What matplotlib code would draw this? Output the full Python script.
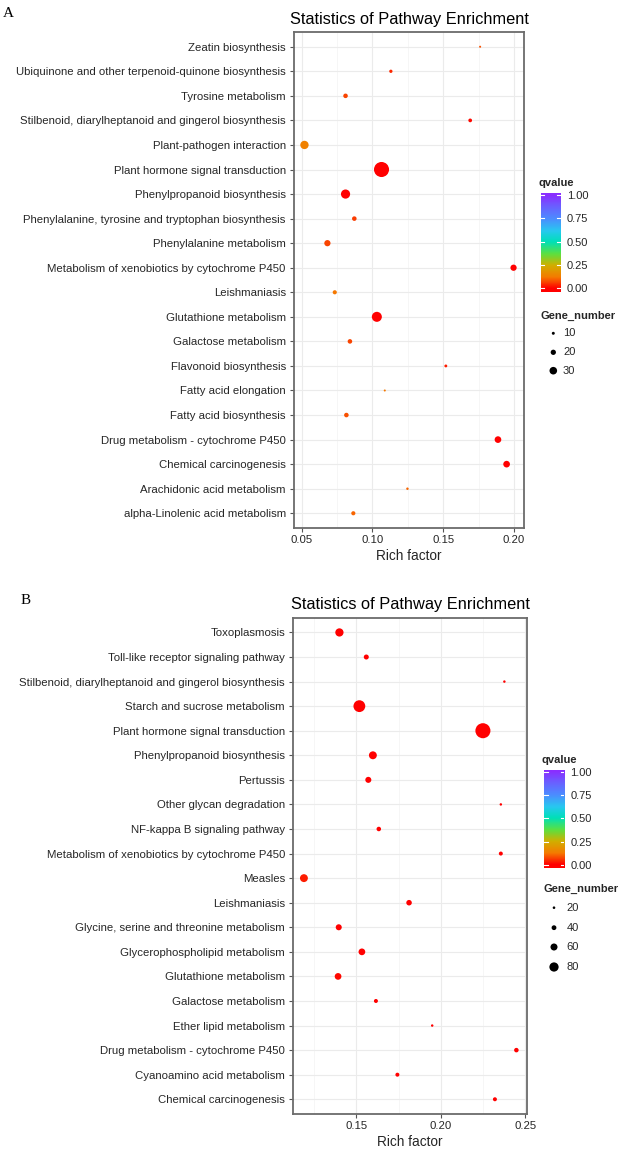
import numpy as np
import matplotlib
matplotlib.use("Agg")
import matplotlib.pyplot as plt
from matplotlib.colors import LinearSegmentedColormap, Normalize
from matplotlib.ticker import MultipleLocator
from matplotlib.lines import Line2D

W, H, DPI = 621, 1150, 100
plt.rcParams['font.family'] = ['Liberation Sans', 'DejaVu Sans']

# ---------------- Panel A data ----------------
a_pathways = [
    "Zeatin biosynthesis",
    "Ubiquinone and other terpenoid-quinone biosynthesis",
    "Tyrosine metabolism",
    "Stilbenoid, diarylheptanoid and gingerol biosynthesis",
    "Plant-pathogen interaction",
    "Plant hormone signal transduction",
    "Phenylpropanoid biosynthesis",
    "Phenylalanine, tyrosine and tryptophan biosynthesis",
    "Phenylalanine metabolism",
    "Metabolism of xenobiotics by cytochrome P450",
    "Leishmaniasis",
    "Glutathione metabolism",
    "Galactose metabolism",
    "Flavonoid biosynthesis",
    "Fatty acid elongation",
    "Fatty acid biosynthesis",
    "Drug metabolism - cytochrome P450",
    "Chemical carcinogenesis",
    "Arachidonic acid metabolism",
    "alpha-Linolenic acid metabolism",
]
a_rich = [0.176, 0.113, 0.081, 0.169, 0.052, 0.1064, 0.081, 0.0872, 0.0682, 0.1996,
          0.0734, 0.1031, 0.0841, 0.1518, 0.1087, 0.0816, 0.1886, 0.1947, 0.1247, 0.0865]
a_genes = [2, 5, 8, 6, 17, 33, 19, 8, 12, 12, 7, 21, 8, 4, 2, 8, 13, 13, 3, 7]
a_qvalue = [0.08, 0.04, 0.07, 0.01, 0.14, 0.0, 0.0, 0.06, 0.07, 0.0,
            0.12, 0.0, 0.07, 0.03, 0.12, 0.08, 0.0, 0.0, 0.10, 0.10]
a_xticks = [0.05, 0.10, 0.15, 0.20]
a_size_breaks = [10, 20, 30]

# ---------------- Panel B data ----------------
b_pathways = [
    "Toxoplasmosis",
    "Toll-like receptor signaling pathway",
    "Stilbenoid, diarylheptanoid and gingerol biosynthesis",
    "Starch and sucrose metabolism",
    "Plant hormone signal transduction",
    "Phenylpropanoid biosynthesis",
    "Pertussis",
    "Other glycan degradation",
    "NF-kappa B signaling pathway",
    "Metabolism of xenobiotics by cytochrome P450",
    "Measles",
    "Leishmaniasis",
    "Glycine, serine and threonine metabolism",
    "Glycerophospholipid metabolism",
    "Glutathione metabolism",
    "Galactose metabolism",
    "Ether lipid metabolism",
    "Drug metabolism - cytochrome P450",
    "Cyanoamino acid metabolism",
    "Chemical carcinogenesis",
]
b_rich = [0.140, 0.1559, 0.2376, 0.1518, 0.2249, 0.1598, 0.1571, 0.2355, 0.1633, 0.2355,
          0.119, 0.1812, 0.1396, 0.1533, 0.1392, 0.1616, 0.1949, 0.2447, 0.1743, 0.2320]
b_genes = [45, 26, 11, 66, 85, 43, 32, 11, 23, 20, 43, 29, 32, 36, 36, 20, 11, 23, 20, 20]
b_qvalue = [0, 0, 0, 0, 0, 0, 0, 0, 0, 0, 0.03, 0, 0, 0, 0.01, 0, 0, 0, 0, 0]
b_xticks = [0.15, 0.20, 0.25]
b_size_breaks = [20, 40, 60, 80]

q_breaks = [0.0, 0.25, 0.50, 0.75, 1.00]

cmap = LinearSegmentedColormap.from_list("qrainbow", [
    (0.00, "#FF0000"), (0.12, "#F57A00"), (0.25, "#D0B000"), (0.37, "#5CE040"),
    (0.50, "#00E0B8"), (0.62, "#28C8F0"), (0.75, "#4C8CFF"), (0.88, "#6A60FF"),
    (1.00, "#8A2EFF")])
norm = Normalize(0, 1)

TEXT = "#262626"
fig = plt.figure(figsize=(W / DPI, H / DPI), dpi=DPI)
fig.patch.set_facecolor("white")


def frect(left, top, right, bottom):
    return [left / W, 1 - bottom / H, (right - left) / W, (bottom - top) / H]


def to_s(d_px):
    return (np.asarray(d_px, float) * 72.0 / DPI) ** 2


def size_a(g):
    return 1.2 + 0.42 * np.asarray(g, float)


def size_b(g):
    return 0.6 + 0.17 * np.asarray(g, float)


def draw_panel(rect, pathways, rich, genes, q, size_fn, xticks):
    ax = fig.add_axes(rect)
    n = len(pathways)
    ypos = np.arange(n)[::-1]
    ax.scatter(rich, ypos, s=to_s(size_fn(genes)), c=q, cmap=cmap, norm=norm,
               linewidths=0, zorder=3)
    lo, hi = min(rich), max(rich)
    pad = 0.05 * (hi - lo)
    ax.set_xlim(lo - pad, hi + pad)
    ax.set_ylim(-0.6, n - 1 + 0.6)
    ax.set_yticks(ypos)
    ax.set_yticklabels(pathways)
    ax.set_xticks(xticks)
    ax.set_xticklabels([f"{t:.2f}" for t in xticks])
    ax.xaxis.set_minor_locator(MultipleLocator(0.025))
    ax.set_axisbelow(True)
    ax.grid(which="major", color="#EBEBEB", lw=0.8)
    ax.grid(which="minor", axis="x", color="#F3F3F3", lw=0.5)
    ax.tick_params(which="major", length=2.6, width=0.8, color="#555555",
                   labelsize=8.2, labelcolor=TEXT)
    ax.tick_params(axis="y", pad=3.3)
    ax.tick_params(axis="x", pad=2.7)
    ax.tick_params(which="minor", length=0)
    for sp in ax.spines.values():
        sp.set_color("#6B6B6B")
        sp.set_linewidth(1.3)
    return ax


axA = draw_panel(frect(294, 32, 524, 528), a_pathways, a_rich, a_genes, a_qvalue,
                 size_a, a_xticks)
axB = draw_panel(frect(293.3, 617.7, 527, 1114), b_pathways, b_rich, b_genes, b_qvalue,
                 size_b, b_xticks)

# overlay in pixel coordinates for titles / legends
ov = fig.add_axes([0, 0, 1, 1])
ov.set_xlim(0, W)
ov.set_ylim(H, 0)
ov.axis("off")
ov.patch.set_alpha(0)

for cx, ty, ly in [((294 + 524) / 2, 24, 560), ((293.3 + 527) / 2, 609, 1146)]:
    ov.text(cx, ty, "Statistics of Pathway Enrichment", ha="center", va="baseline",
            fontsize=11.8, color="black")
    ov.text(cx, ly, "Rich factor", ha="center", va="baseline", fontsize=9.8, color=TEXT)

ov.text(3, 16.7, "A", fontfamily="Liberation Serif", fontsize=11, va="baseline")
ov.text(21, 604, "B", fontfamily="Liberation Serif", fontsize=11, va="baseline")


def colorbar(x0, x1, y_one, y_zero, title_base):
    span = y_zero - y_one
    ext_top = (y_one - 2)
    ext_bot = (y_zero + 3.4)
    lo = -(ext_bot - y_zero) / span
    hi = 1 + (y_one - ext_top) / span
    cax = fig.add_axes(frect(x0, ext_top, x1, ext_bot))
    grad = np.linspace(lo, hi, 256)[:, None]
    cax.imshow(grad, aspect="auto", cmap=cmap, norm=norm, origin="lower",
               extent=(0, 1, lo, hi), interpolation="bilinear")
    cax.set_xlim(0, 1)
    cax.set_ylim(lo, hi)
    cax.set_xticks([])
    cax.yaxis.tick_right()
    cax.set_yticks(q_breaks)
    cax.set_yticklabels([f"{b:.2f}" for b in q_breaks])
    cax.tick_params(axis="y", length=0, pad=6.0 * 72 / DPI, labelsize=8.0, labelcolor=TEXT)
    for sp in cax.spines.values():
        sp.set_visible(False)
    for b in q_breaks:
        cax.add_line(Line2D([0, 0.18], [b, b], color="white", lw=0.8,
                            transform=cax.get_yaxis_transform()))
        cax.add_line(Line2D([0.82, 1], [b, b], color="white", lw=0.8,
                            transform=cax.get_yaxis_transform()))
    ov.text(x0 - 2, title_base, "qvalue", fontsize=8.0, fontweight="bold",
            va="baseline", color=TEXT)


def size_legend(x_title, title_base, dot_x, label_x, ys, breaks, size_fn, scale):
    ov.text(x_title, title_base, "Gene_number", fontsize=8.0, fontweight="bold",
            va="baseline", color=TEXT)
    d = size_fn(breaks) * scale
    ov.scatter([dot_x] * len(breaks), ys, s=to_s(d), color="black", linewidths=0)
    for y, b in zip(ys, breaks):
        ov.text(label_x, y, str(b), fontsize=8.0, va="center", color=TEXT)


colorbar(540.7, 560.7, 195, 288.3, 186)
size_legend(540.7, 319, 553.3, 563, [333.3, 352.3, 370.7], a_size_breaks, size_a, 0.55)

colorbar(544, 564.3, 771.7, 865, 763)
size_legend(544, 892, 554, 566.7, [907.7, 927.7, 947, 967], b_size_breaks, size_b, 0.65)

fig.savefig("out.png", dpi=DPI, facecolor="white")
